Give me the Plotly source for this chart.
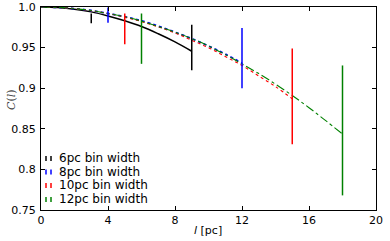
import plotly.graph_objects as go

# Smooth curves C(l) read at integer l
l_6 = [0, 1, 2, 3, 4, 5, 6, 7, 8, 9]
c_6 = [1.0, 0.9993, 0.9973, 0.994, 0.989, 0.983, 0.976, 0.967, 0.957, 0.9455]
l_8 = [0, 1, 2, 3, 4, 5, 6, 7, 8, 9, 10, 11, 12]
c_8 = [1.0, 0.9995, 0.998, 0.9957, 0.992, 0.988, 0.983, 0.9765, 0.969, 0.961, 0.952, 0.942, 0.931]
l_10 = [0, 1, 2, 3, 4, 5, 6, 7, 8, 9, 10, 11, 12, 13, 14, 15]
c_10 = [1.0, 0.9995, 0.998, 0.9955, 0.992, 0.9875, 0.982, 0.9755, 0.968, 0.959, 0.950,
        0.939, 0.928, 0.915, 0.902, 0.887]
l_12 = [0, 1, 2, 3, 4, 5, 6, 7, 8, 9, 10, 11, 12, 13, 14, 15, 16, 17, 18]
c_12 = [1.0, 0.9995, 0.998, 0.9957, 0.992, 0.988, 0.9826, 0.976, 0.969, 0.961, 0.952,
        0.9415, 0.930, 0.918, 0.905, 0.891, 0.876, 0.860, 0.8436]

# Measured points with error bars
pt_l_6 = [3, 9]
pt_c_6 = [0.986, 0.950]
pt_e_6 = [0.006, 0.028]
pt_l_8 = [4, 12]
pt_c_8 = [0.990, 0.937]
pt_e_8 = [0.0095, 0.037]
pt_l_10 = [5, 15]
pt_c_10 = [0.973, 0.890]
pt_e_10 = [0.019, 0.059]
pt_l_12 = [6, 18]
pt_c_12 = [0.961, 0.848]
pt_e_12 = [0.031, 0.080]

labels = ["6pc bin width", "8pc bin width", "10pc bin width", "12pc bin width"]
colors = ["black", "#0000ff", "#ff0000", "#008000"]

x_ticks = [0, 4, 8, 12, 16, 20]
y_ticks = [0.75, 0.8, 0.85, 0.9, 0.95, 1.0]
y_tick_text = ["0.75", "0.8", "0.85", "0.9", "0.95", "1.0"]

W, H = 390, 241
ML, MR, MT, MB = 41, 14, 7, 31
PW, PH = W - ML - MR, H - MT - MB


def px_x(px):
    return (px - ML) / PW


def px_y(py):
    return (H - MB - py) / PH


fig = go.Figure()

curves = [(l_6, c_6, "solid", 1.5), (l_8, c_8, "dot", 1.8),
          (l_10, c_10, "dot", 1.1), (l_12, c_12, "dashdot", 1.1)]
for (lx, cy, dash, w), col in zip(curves, colors):
    fig.add_trace(go.Scatter(x=lx, y=cy, mode="lines", line_shape="spline",
                             line=dict(color=col, dash=dash, width=w),
                             showlegend=False, hoverinfo="skip"))

pts = [(pt_l_6, pt_c_6, pt_e_6), (pt_l_8, pt_c_8, pt_e_8),
       (pt_l_10, pt_c_10, pt_e_10), (pt_l_12, pt_c_12, pt_e_12)]
for (px, py, pe), col in zip(pts, colors):
    fig.add_trace(go.Scatter(x=px, y=py, mode="markers",
                             marker=dict(size=0.1, color=col, opacity=0),
                             error_y=dict(type="data", array=pe, visible=True,
                                          color=col, thickness=1.5, width=0),
                             showlegend=False))

# Manual legend (text annotations with small bar glyphs)
leg_y = [158, 171.5, 185, 199]
shapes = []
annotations = []
for lab, col, yy in zip(labels, colors, leg_y):
    annotations.append(dict(text=lab, x=px_x(57), y=px_y(yy), xref="paper", yref="paper",
                            xanchor="left", yanchor="middle", showarrow=False,
                            font=dict(family="DejaVu Sans", size=12, color="black")))
    for xx in (46, 51):
        shapes.append(dict(type="line", xref="paper", yref="paper",
                           x0=px_x(xx), x1=px_x(xx), y0=px_y(yy + 3), y1=px_y(yy - 2),
                           line=dict(color=col, width=1.5)))

annotations.append(dict(text="<i>C</i>(<i>l</i>)", x=px_x(11), y=px_y(100),
                        xref="paper", yref="paper", textangle=-90, showarrow=False,
                        xanchor="center", yanchor="middle",
                        font=dict(family="DejaVu Serif", size=11, color="#444444")))
annotations.append(dict(text="<i>l</i> [pc]", x=px_x(208), y=px_y(230),
                        xref="paper", yref="paper", showarrow=False,
                        xanchor="center", yanchor="middle",
                        font=dict(family="DejaVu Sans", size=11, color="black")))

axis_common = dict(showgrid=False, zeroline=False, showline=True, linecolor="black",
                   linewidth=1.2, mirror="ticks", ticks="inside", ticklen=4,
                   tickcolor="black", tickwidth=1, automargin=False,
                   tickfont=dict(family="DejaVu Sans", size=11, color="black"))

fig.update_layout(
    width=W, height=H,
    margin=dict(l=ML, r=MR, t=MT, b=MB, autoexpand=False),
    paper_bgcolor="white", plot_bgcolor="white",
    xaxis=dict(range=[0, 20], tickvals=x_ticks, ticktext=[str(v) for v in x_ticks],
               **axis_common),
    yaxis=dict(range=[0.75, 1.0], tickvals=y_ticks, ticktext=y_tick_text,
               ticklabelstandoff=2, **axis_common),
    shapes=shapes, annotations=annotations,
    showlegend=False,
)

fig.write_html("out.html", config={"displayModeBar": False},
               post_script="document.body.style.margin='0';document.body.style.padding='0';")
